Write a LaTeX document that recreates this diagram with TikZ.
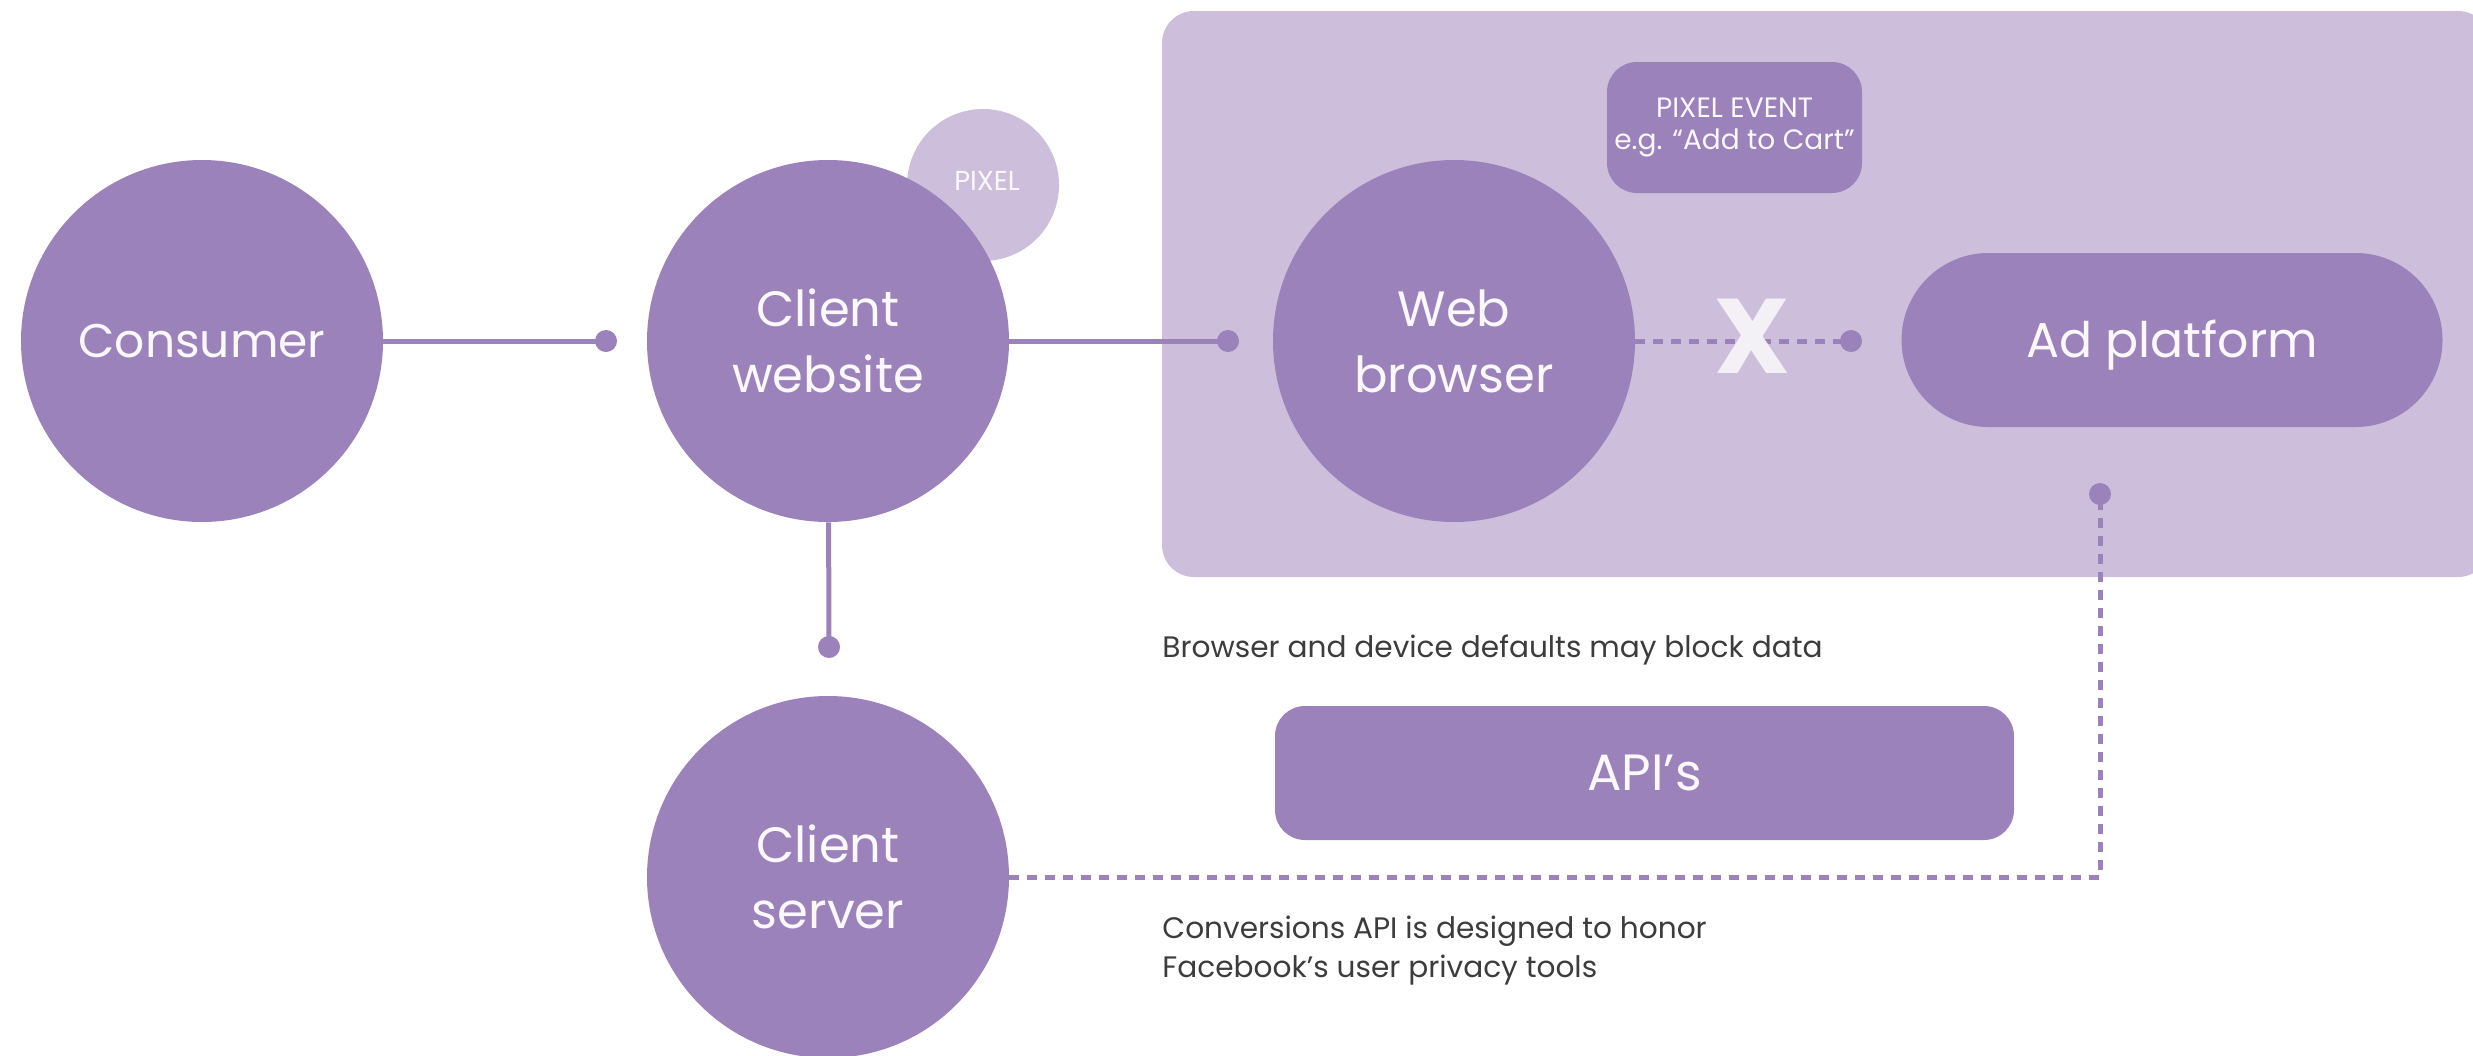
\documentclass[tikz,border=0pt]{standalone}
\usepackage{fontspec}
\setmainfont{Poppins}
\definecolor{purp}{HTML}{9C82BA}
\definecolor{lilac}{HTML}{CDBFDC}
\definecolor{ink}{HTML}{3C3C3C}
\definecolor{paper}{HTML}{FBF8FC}
\definecolor{cross}{HTML}{F3F1F6}

\begin{document}
\begin{tikzpicture}[x=0.5pt, y=-0.5pt,
  bubble/.style={circle, fill=purp, text=paper, minimum size=181pt, inner sep=0pt,
    align=center, font=\fontsize{24.8}{33}\selectfont},
  tag/.style={fill=purp, text=paper, inner sep=0pt, align=center},
  link/.style={draw=purp, line width=2.5pt},
  dotlink/.style={draw=purp, line width=2.5pt, dash pattern=on 5pt off 4pt},
  note/.style={text=ink, inner sep=0pt, anchor=base west, font=\fontsize{14.8}{19.5}\selectfont},
  enddot/.style={fill=purp}
]
\useasboundingbox (0,0) rectangle (2473,1055);
\clip (0,0) rectangle (2473,1055);

% browser-side panel
\fill[lilac, rounded corners=16pt] (1162,11) rectangle (2490,577);

% pixel badge sits behind the website bubble
\node[circle, fill=lilac, text=paper, minimum size=76pt, inner sep=0pt,
      font=\fontsize{13.7}{15}\selectfont] (pixel) at (983,185) {\raisebox{4pt}{\hspace{4pt}PIXEL}};

% main bubbles
\node[bubble, font=\fontsize{23.6}{33}\selectfont] (cons) at (202,341) {Consumer};
\node[bubble] (site) at (828,341) {Client\\website};
\node[bubble] (web)  at (1454,341) {Web\\browser};
\node[bubble] (srv)  at (828,877) {Client\\server};

% boxes
\node[tag, rounded corners=43.5pt, minimum width=270.5pt, minimum height=87pt,
      font=\fontsize{24.5}{33}\selectfont] (ad) at (2172,340) {\raisebox{-8.8pt}[0pt][0pt]{Ad platform}};
\node[tag, rounded corners=15pt, minimum width=127.5pt, minimum height=65.5pt,
      font=\fontsize{14}{16}\selectfont] (event) at (1734.5,127.5) {PIXEL EVENT\\e.g. “Add to Cart”};
\node[tag, rounded corners=15pt, minimum width=369.5pt, minimum height=67pt,
      font=\fontsize{25.5}{30}\selectfont] (api) at (1644.5,773) {API’s};

% connector end points
\coordinate (d1) at (606,341);
\coordinate (d2) at (1228,341);
\coordinate (d3) at (1851,341);
\coordinate (d4) at (829,647);
\coordinate (d5) at (2100,494);

% connectors
\draw[link] (cons) -- (d1);
\draw[link] (site) -- (d2);
\draw[link] (site) -- (d4);
\draw[dotlink] (web) -- (d3);
\draw[dotlink] (srv.east) -| (d5);

\foreach \p in {d1,d2,d3,d4,d5} \fill[enddot] (\p) circle (5.5pt);

% blocked link mark
\node[text=cross, inner sep=0pt, font=\fontsize{53}{60}\selectfont\bfseries] (block) at (1752,336) {X};

% notes
\node[note] (n1) at (1162,657) {Browser and device defaults may block data};
\node[note] (n2) at (1162,938) {Conversions API is designed to honor};
\node[note] (n3) at (1162,977) {Facebook’s user privacy tools};
\end{tikzpicture}
\end{document}
